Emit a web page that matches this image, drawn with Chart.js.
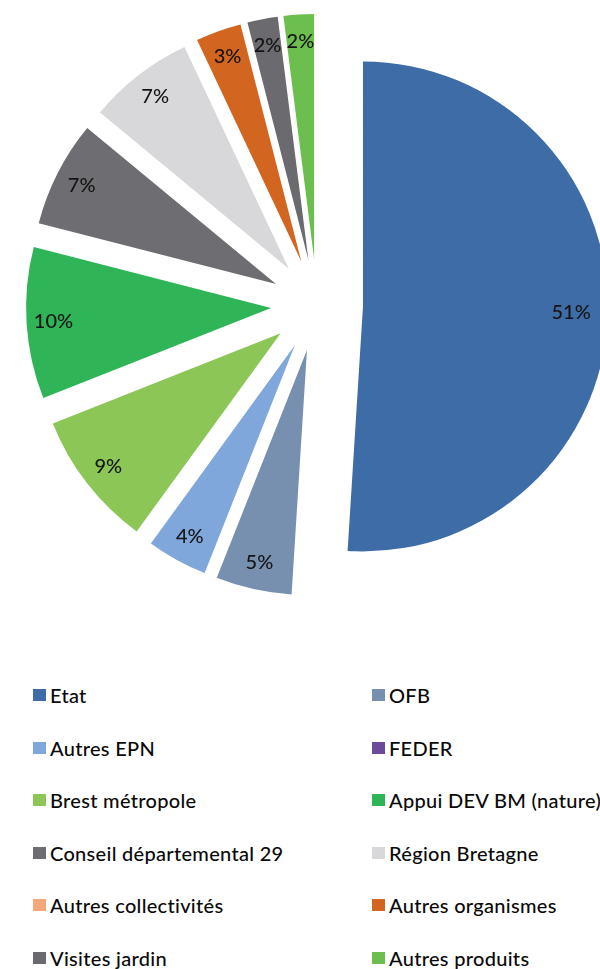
<!DOCTYPE html>
<html lang="fr">
<head>
<meta charset="utf-8">
<script src="https://cdn.jsdelivr.net/npm/chart.js@4"></script>
<style>
  html, body { margin: 0; padding: 0; background: #fff; overflow: hidden; }
  body { width: 600px; height: 969px; position: relative; font-family: Lato, "Noto Sans", sans-serif; }
  #pie { position: absolute; left: 0; top: 0; }
  #legend { position: absolute; left: 0; top: 669px; width: 600px; }
  .item { position: absolute; display: flex; align-items: center; white-space: nowrap; font-size: 20px; font-weight: 500; letter-spacing: 0.3px; color: #0a0a0a; }
  .box { width: 13px; height: 12px; margin-right: 4px; flex: none; }
</style>
</head>
<body>
<canvas id="pie" width="600" height="640"></canvas>
<div id="legend"></div>
<script>
const labels = [
  "Etat", "OFB", "Autres EPN", "FEDER", "Brest métropole", "Appui DEV BM (nature)",
  "Conseil départemental 29", "Région Bretagne", "Autres collectivités",
  "Autres organismes", "Visites jardin", "Autres produits"
];
const shares = [51, 5, 4, 0, 9, 10, 7, 7, 0, 3, 2, 2];
const colors = [
  "#3e6ca7", "#7890b0", "#7fa7dc", "#6b4a9c", "#8cc657", "#2fb457",
  "#6e6e72", "#d8d8da", "#f3a87c", "#d2651f", "#6a6a6f", "#6cbf4f"
];

// exploded pie: every slice pushed out along its middle angle
const explode = {
  id: "explode",
  beforeDatasetDraw(chart, args, opts) {
    const ctx = chart.ctx;
    const arcs = args.meta.data;
    arcs.forEach((arc) => {
      if (arc.circumference === 0) return;
      const mid = (arc.startAngle + arc.endAngle) / 2;
      ctx.save();
      ctx.translate(Math.cos(mid) * opts.distance, Math.sin(mid) * opts.distance);
      arc.draw(ctx);
      ctx.restore();
    });
    // percentage labels
    ctx.save();
    ctx.font = opts.font;
    ctx.fillStyle = "#141414";
    ctx.textAlign = "center";
    ctx.textBaseline = "middle";
    arcs.forEach((arc, i) => {
      const v = chart.data.datasets[0].data[i];
      if (!v) return;
      const mid = (arc.startAngle + arc.endAngle) / 2;
      const pos = v > 50 ? opts.bigLabelPos : opts.labelPos;
      const r = opts.distance + arc.outerRadius * pos;
      ctx.fillText(v + "%", arc.x + Math.cos(mid) * r, arc.y + Math.sin(mid) * r);
    });
    ctx.restore();
    return false;
  }
};

const chart = new Chart(document.getElementById("pie"), {
  type: "pie",
  data: {
    labels: labels,
    datasets: [{
      data: shares,
      backgroundColor: colors,
      borderWidth: 0,
      radius: 245
    }]
  },
  options: {
    responsive: false,
    animation: false,
    layout: { padding: { left: 34, right: 0, top: 0, bottom: 30 } },
    plugins: {
      legend: { display: false },
      tooltip: { enabled: false },
      explode: {
        distance: 46, labelPos: 0.89, bigLabelPos: 0.85,
        font: "500 20px Lato, 'Noto Sans', sans-serif"
      }
    }
  },
  plugins: [explode]
});

// two-column legend built from the chart data
const legend = document.getElementById("legend");
chart.data.labels.forEach((name, i) => {
  const row = Math.floor(i / 2);
  const col = i % 2;
  const item = document.createElement("div");
  item.className = "item";
  item.style.left = (col === 0 ? 33 : 372) + "px";
  item.style.top = (row * 52.6) + "px";
  item.style.height = "52px";
  const box = document.createElement("span");
  box.className = "box";
  box.style.background = colors[i];
  const txt = document.createElement("span");
  txt.textContent = name;
  item.appendChild(box);
  item.appendChild(txt);
  legend.appendChild(item);
});
</script>
</body>
</html>
